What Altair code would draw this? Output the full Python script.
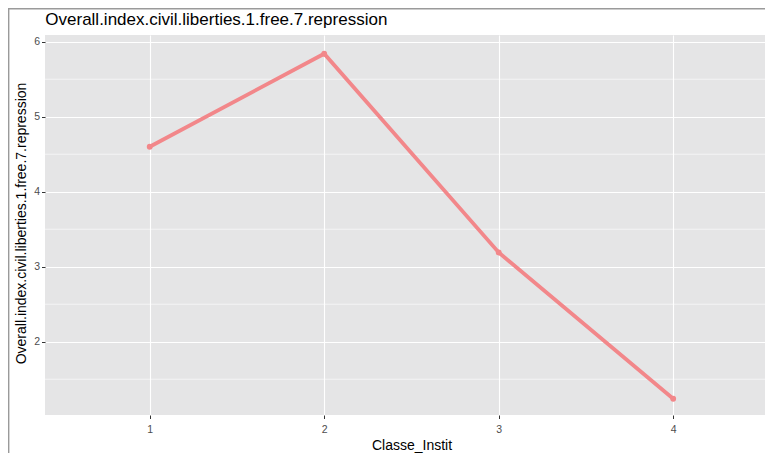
import altair as alt
import pandas as pd

# ---- data ----
classe = [1, 2, 3, 4]
values = [4.6, 5.84, 3.19, 1.24]
x_ticks = [1, 2, 3, 4]
y_ticks = [2, 3, 4, 5, 6]
minor_y = [1.5, 2.5, 3.5, 4.5, 5.5]

title_text = "Overall.index.civil.liberties.1.free.7.repression"
x_title = "Classe_Instit"
y_title = "Overall.index.civil.liberties.1.free.7.repression"

df = pd.DataFrame({"Classe_Instit": classe, "val": values})
minor_df = pd.DataFrame({"val": minor_y})
frame_df = pd.DataFrame({"k": [0]})

W, H = 720, 380
FONT = "Liberation Sans"
LINE_COLOR = "#F2878A"

xs = alt.Scale(domain=[0.4, 4.526], nice=False, zero=False)
ys = alt.Scale(domain=[1.023, 6.09], nice=False, zero=False)

x_axis = alt.Axis(values=x_ticks, title=x_title, titleX=366.5, titleY=23,
                  titleAlign="center", titleBaseline="top", labelPadding=6)
y_axis = alt.Axis(values=y_ticks, title=y_title, titleX=-17, titleY=H / 2 - 2,
                  titleAlign="center", titleAngle=270, titleBaseline="bottom",
                  labelPadding=2)

minor = alt.Chart(minor_df).mark_rule(color="white", strokeWidth=0.6).encode(
    y=alt.Y("val:Q", scale=ys, axis=y_axis)
)

line = alt.Chart(df).mark_line(color=LINE_COLOR, strokeWidth=3.8).encode(
    x=alt.X("Classe_Instit:Q", scale=xs, axis=x_axis),
    y=alt.Y("val:Q", scale=ys, axis=y_axis),
)

points = alt.Chart(df).mark_circle(color=LINE_COLOR, size=34, opacity=1).encode(
    x=alt.X("Classe_Instit:Q", scale=xs, axis=x_axis),
    y=alt.Y("val:Q", scale=ys, axis=y_axis),
)

frame_left = alt.Chart(frame_df).mark_rule(color="#9A9A9A", strokeWidth=1.4).encode(
    x=alt.value(-36.3), y=alt.value(-27), y2=alt.value(H + 60)
)
frame_top = alt.Chart(frame_df).mark_rule(color="#9A9A9A", strokeWidth=1.4).encode(
    x=alt.value(-37), x2=alt.value(W), y=alt.value(-26.3)
)

chart = alt.layer(minor, line, points, frame_left, frame_top).properties(
    width=W,
    height=H,
    title=alt.TitleParams(text=title_text, anchor="start", font=FONT, fontSize=17,
                          fontWeight="normal", color="black", offset=-22, dx=38),
    autosize=alt.AutoSizeParams(type="none"),
    padding={"left": 37, "top": 27, "right": 0, "bottom": 38},
).configure_view(
    fill="#E5E5E6", stroke=None
).configure_axis(
    domain=False,
    grid=True,
    gridColor="white",
    gridWidth=1.1,
    tickColor="#333333",
    tickSize=3.5,
    tickWidth=1,
    labelColor="#4D4D4D",
    labelFont=FONT,
    labelFontSize=10.5,
    titleFont=FONT,
    titleFontSize=14,
    titleFontWeight="normal",
    titleColor="black",
)

chart.save("out.html", embed_options={"renderer": "svg", "actions": False})
